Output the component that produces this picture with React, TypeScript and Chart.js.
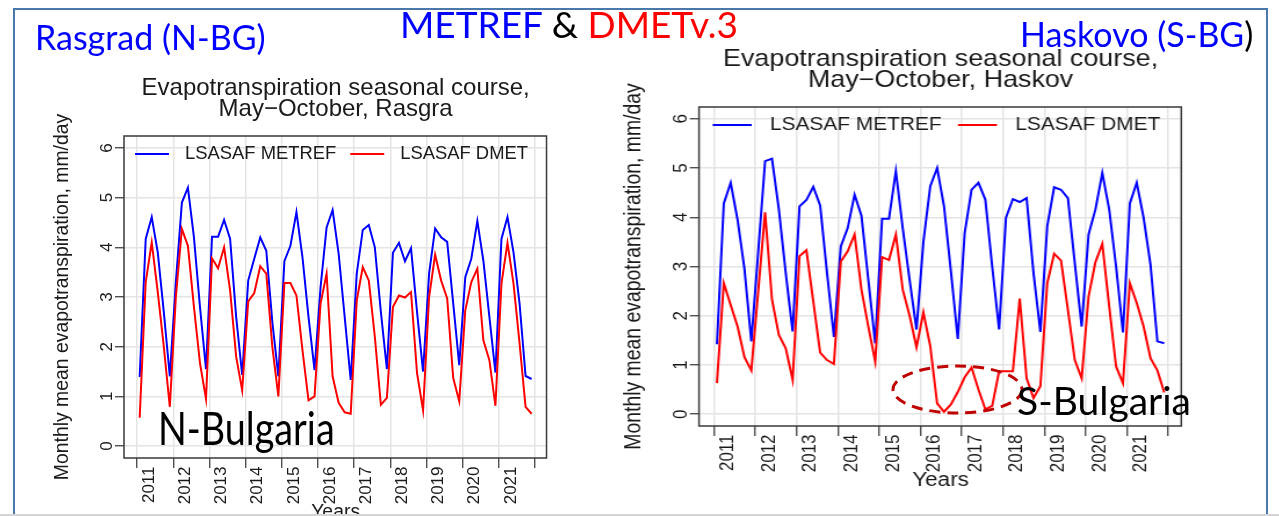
import React, { useEffect, useRef } from "react";
import { Chart, registerables } from "chart.js";

Chart.register(...registerables);

// ---------------- data ----------------
const YEARS = [2011, 2012, 2013, 2014, 2015, 2016, 2017, 2018, 2019, 2020, 2021];
const MONTHS = ["May", "Jun", "Jul", "Aug", "Sep", "Oct"];
const X_TICK_LABELS = [...YEARS.map(String), ""];
const Y_TICKS = [0, 1, 2, 3, 4, 5, 6];

// Rasgrad (N-BG), monthly values May..Oct for 2011..2021
const RAS_METREF = [
  1.39, 4.17, 4.61, 3.9, 2.7, 1.4,
  3.3, 4.9, 5.2, 4.2, 2.8, 1.55,
  4.21, 4.21, 4.55, 4.17, 2.6, 1.43,
  3.33, 3.77, 4.2, 3.93, 2.5, 1.4,
  3.72, 4.03, 4.71, 3.8, 2.6, 1.53,
  3.2, 4.4, 4.75, 3.87, 2.6, 1.33,
  3.47, 4.35, 4.45, 4.0, 2.7, 1.55,
  3.89, 4.09, 3.72, 3.98, 2.7, 1.5,
  3.47, 4.38, 4.2, 4.11, 2.87, 1.63,
  3.4, 3.77, 4.53, 3.73, 2.6, 1.48,
  4.17, 4.61, 3.9, 2.87, 1.41, 1.35,
];
const RAS_DMET = [
  0.57, 3.3, 4.1, 3.1, 2.0, 0.79,
  3.0, 4.37, 4.03, 2.8, 1.67, 0.95,
  3.78, 3.58, 4.0, 3.13, 1.8, 1.12,
  2.91, 3.08, 3.62, 3.47, 2.0, 1.0,
  3.28, 3.28, 3.03, 1.93, 0.92, 1.0,
  2.87, 3.47, 1.4, 0.87, 0.68, 0.65,
  2.93, 3.6, 3.33, 2.2, 0.83, 0.97,
  2.8, 3.03, 2.99, 3.1, 1.47, 0.72,
  3.0, 3.85, 3.33, 2.97, 1.37, 0.9,
  2.73, 3.3, 3.57, 2.13, 1.73, 0.81,
  3.27, 4.09, 3.27, 2.07, 0.79, 0.65,
];

// Haskovo (S-BG)
const HAS_METREF = [
  1.42, 4.28, 4.7, 3.95, 2.95, 1.48,
  3.3, 5.14, 5.19, 4.16, 2.87, 1.68,
  4.22, 4.35, 4.62, 4.24, 2.87, 1.57,
  3.41, 3.78, 4.46, 4.03, 2.73, 1.44,
  3.97, 3.97, 4.94, 3.78, 2.73, 1.72,
  3.5, 4.63, 5.0, 4.22, 2.9, 1.53,
  3.68, 4.56, 4.7, 4.36, 3.0, 1.72,
  3.99, 4.37, 4.31, 4.39, 2.87, 1.67,
  3.82, 4.61, 4.56, 4.39, 3.07, 1.78,
  3.65, 4.16, 4.9, 4.16, 3.0, 1.66,
  4.28, 4.7, 3.99, 3.04, 1.48, 1.44,
];
const HAS_DMET = [
  0.63, 2.66, 2.22, 1.78, 1.16, 0.89,
  2.5, 4.1, 2.33, 1.61, 1.34, 0.7,
  3.21, 3.33, 2.29, 1.25, 1.1, 1.02,
  3.1, 3.31, 3.65, 2.53, 1.78, 1.07,
  3.19, 3.13, 3.65, 2.53, 2.0, 1.36,
  2.07, 1.38, 0.22, 0.05, 0.2, 0.45,
  0.75, 0.95, 0.5, 0.1, 0.17, 0.87,
  0.87, 0.87, 2.35, 0.73, 0.33, 0.57,
  2.66, 3.26, 3.12, 2.12, 1.1, 0.73,
  2.39, 3.09, 3.46, 2.19, 0.97, 0.63,
  2.66, 2.26, 1.78, 1.14, 0.89, 0.44,
];

// ---------------- chart config ----------------
const FONT = "'Liberation Sans', Arial, Helvetica, sans-serif";
const INK = "#1a1a1a";
const N_MONTHS = MONTHS.length;
const TICK_SHIFT = -0.42;

type Geo = {
  width: number;
  height: number;
  yWidth: number;
  xHeight: number;
  titleSize: number;
  titleLine: number;
  titlePadTop: number;
  titlePadBottom: number;
  yTitlePad: number;
  xTitlePad: number;
  yTickLen: number;
  legendFont: number;
  legendDx: number;
  legendDy: number;
  legendLine: number;
  legendGap: number;
  legendSpacing: number;
};

function makeFrame(g: Geo) {
  return {
    id: "frame",
    afterLayout(chart: any) {
      const t = chart.titleBlock;
      const a = chart.chartArea;
      if (t && a) {
        t.left = a.left;
        t.right = a.right;
        t.width = a.right - a.left;
      }
    },
    afterDraw(chart: any) {
      const { ctx, chartArea: a } = chart;
      ctx.save();
      ctx.strokeStyle = "#3a3a3a";
      ctx.lineWidth = 1.5;
      ctx.strokeRect(a.left, a.top, a.right - a.left - 0.75, a.bottom - a.top);
      // legend inside the plot area, top-left
      ctx.font = `${g.legendFont}px ${FONT}`;
      ctx.textBaseline = "middle";
      ctx.textAlign = "left";
      let x = a.left + g.legendDx;
      const y = a.top + g.legendDy;
      chart.data.datasets.forEach((ds: any) => {
        ctx.strokeStyle = ds.borderColor;
        ctx.lineWidth = 2;
        ctx.beginPath();
        ctx.moveTo(x, y);
        ctx.lineTo(x + g.legendLine, y);
        ctx.stroke();
        x += g.legendLine + g.legendGap;
        ctx.fillStyle = INK;
        ctx.fillText(ds.label, x, y);
        x += ctx.measureText(ds.label).width + g.legendSpacing;
      });
      ctx.restore();
    },
  };
}

function makeConfig(metref: number[], dmet: number[], station: string, g: Geo): any {
  const pts = (arr: number[]) => arr.map((v, i) => ({ x: i, y: v }));
  const n = YEARS.length * N_MONTHS;
  const pad = (n - 1) * 0.04;
  return {
    type: "line",
    data: {
      datasets: [
        { label: "LSASAF METREF", data: pts(metref), borderColor: "#0000ff", borderWidth: 2, pointRadius: 0, tension: 0, fill: false, order: 1 },
        { label: "LSASAF DMET", data: pts(dmet), borderColor: "#ff0000", borderWidth: 2, pointRadius: 0, tension: 0, fill: false, order: 0 },
      ],
    },
    options: {
      animation: false,
      responsive: false,
      devicePixelRatio: 1,
      layout: { padding: 0 },
      plugins: {
        legend: { display: false },
        tooltip: { enabled: false },
        title: {
          display: true,
          text: ["Evapotranspiration seasonal course,", `May\u2212October, ${station}`],
          color: INK,
          font: { family: FONT, size: g.titleSize, weight: "normal", lineHeight: g.titleLine / g.titleSize },
          padding: { top: g.titlePadTop, bottom: g.titlePadBottom },
        },
      },
      scales: {
        x: {
          type: "linear",
          min: -pad,
          max: n - 1 + pad,
          afterBuildTicks: (s: any) => {
            s.ticks = X_TICK_LABELS.map((_, k) => ({ value: k * N_MONTHS + TICK_SHIFT }));
          },
          afterFit: (s: any) => {
            s.height = g.xHeight;
          },
          ticks: {
            autoSkip: false,
            minRotation: 90,
            maxRotation: 90,
            labelOffset: 12,
            padding: -1.5,
            color: INK,
            font: { family: FONT, size: 17 },
            callback: (_v: any, idx: number) => X_TICK_LABELS[idx],
          },
          grid: { color: "#e4e4e4", lineWidth: 1.5, tickColor: "#333", tickWidth: 1.2, tickLength: 10 },
          border: { display: false },
          title: {
            display: true,
            text: "Years",
            color: INK,
            font: { family: FONT, size: 19.4 },
            padding: { top: 0, bottom: g.xTitlePad },
          },
        },
        y: {
          type: "linear",
          min: -0.24,
          max: 6.24,
          afterBuildTicks: (s: any) => {
            s.ticks = Y_TICKS.map((v) => ({ value: v }));
          },
          afterFit: (s: any) => {
            s.width = g.yWidth;
          },
          ticks: {
            minRotation: 90,
            maxRotation: 90,
            crossAlign: "center",
            padding: 3,
            color: INK,
            font: { family: FONT, size: 17 },
            callback: (v: any) => String(v),
          },
          grid: { color: "#e4e4e4", lineWidth: 1.5, tickColor: "#333", tickWidth: 1.2, tickLength: g.yTickLen },
          border: { display: false },
          title: {
            display: true,
            text: "Monthly mean evapotranspiration, mm/day",
            color: INK,
            font: { family: FONT, size: 19.4 },
            padding: { top: g.yTitlePad, bottom: 0 },
          },
        },
      },
    },
    plugins: [makeFrame(g)],
  };
}

const LEFT_GEO: Geo = {
  width: 554, height: 530, yWidth: 124, xHeight: 72,
  titleSize: 24, titleLine: 21, titlePadTop: 78, titlePadBottom: 16,
  yTitlePad: 51.4, xTitlePad: 5.4, yTickLen: 9,
  legendFont: 18.4, legendDx: 11, legendDy: 18, legendLine: 34, legendGap: 16, legendSpacing: 14,
};
const RIGHT_GEO: Geo = {
  width: 526, height: 500, yWidth: 102.6, xHeight: 74,
  titleSize: 23.2, titleLine: 21, titlePadTop: 49.5, titlePadBottom: 15.5,
  yTitlePad: 34.9, xTitlePad: 7.4, yTickLen: 8,
  legendFont: 18, legendDx: 11.8, legendDy: 18, legendLine: 33.6, legendGap: 15.8, legendSpacing: 14,
};

function ChartBox({ metref, dmet, station, geo }: { metref: number[]; dmet: number[]; station: string; geo: Geo }) {
  const ref = useRef<HTMLCanvasElement>(null);
  useEffect(() => {
    const chart = new Chart(ref.current as HTMLCanvasElement, makeConfig(metref, dmet, station, geo));
    return () => chart.destroy();
  }, []);
  return <canvas ref={ref} width={geo.width} height={geo.height} style={{ display: "block" }} />;
}

const SLIDE_FONT = "Lato, 'Open Sans', sans-serif";

export default function App() {
  return (
    <div style={{ position: "fixed", left: 0, top: 0, width: 1279, height: 516, overflow: "hidden", background: "#fff" }}>
      <div style={{ position: "absolute", left: 0, top: 0 }}>
        <ChartBox metref={RAS_METREF} dmet={RAS_DMET} station="Rasgra" geo={LEFT_GEO} />
      </div>
      <div style={{ position: "absolute", left: 580, top: 0, transform: "scaleX(1.16)", transformOrigin: "0 0" }}>
        <ChartBox metref={HAS_METREF} dmet={HAS_DMET} station="Haskov" geo={RIGHT_GEO} />
      </div>

      {/* slide frame */}
      <div style={{ position: "absolute", left: 13, top: 8, width: 1251, height: 540, borderLeft: "2.5px solid #4a78ab", borderTop: "2.5px solid #4a78ab", borderRight: "2.5px solid #4a78ab" }} />
      <div style={{ position: "absolute", left: 0, top: 514, width: 1279, height: 2, background: "#d4d4d4" }} />

      {/* slide texts */}
      <div style={{ position: "absolute", left: 35, top: 20, font: `34px ${SLIDE_FONT}`, lineHeight: 1, color: "#0000ff", whiteSpace: "nowrap" }}>
        Rasgrad (N-BG)
      </div>
      <div style={{ position: "absolute", left: 400, top: 5, font: `37px ${SLIDE_FONT}`, lineHeight: 1, whiteSpace: "nowrap" }}>
        <span style={{ color: "#0000ff" }}>METREF</span>
        <span style={{ color: "#000" }}> &amp; </span>
        <span style={{ color: "#ff0000" }}>DMETv.3</span>
      </div>
      <div style={{ position: "absolute", left: 1020, top: 17, font: `34px ${SLIDE_FONT}`, lineHeight: 1, whiteSpace: "nowrap" }}>
        <span style={{ color: "#0000ff" }}>Haskovo (S-BG</span>
        <span style={{ color: "#000" }}>)</span>
      </div>
      <div style={{ position: "absolute", left: 158, top: 405, font: `46px ${SLIDE_FONT}`, lineHeight: 1, color: "#000", whiteSpace: "nowrap", transform: "scaleX(0.82)", transformOrigin: "0 0" }}>
        N-Bulgaria
      </div>
      <svg style={{ position: "absolute", left: 0, top: 0 }} width={1279} height={516}>
        <ellipse cx={957.5} cy={389.5} rx={64.5} ry={23.5} fill="none" stroke="#c00000" strokeWidth={3} strokeDasharray="11 7" />
      </svg>
      <div style={{ position: "absolute", left: 1017, top: 381, font: `39px ${SLIDE_FONT}`, lineHeight: 1, color: "#000", whiteSpace: "nowrap" }}>
        S-Bulgaria
      </div>
    </div>
  );
}
